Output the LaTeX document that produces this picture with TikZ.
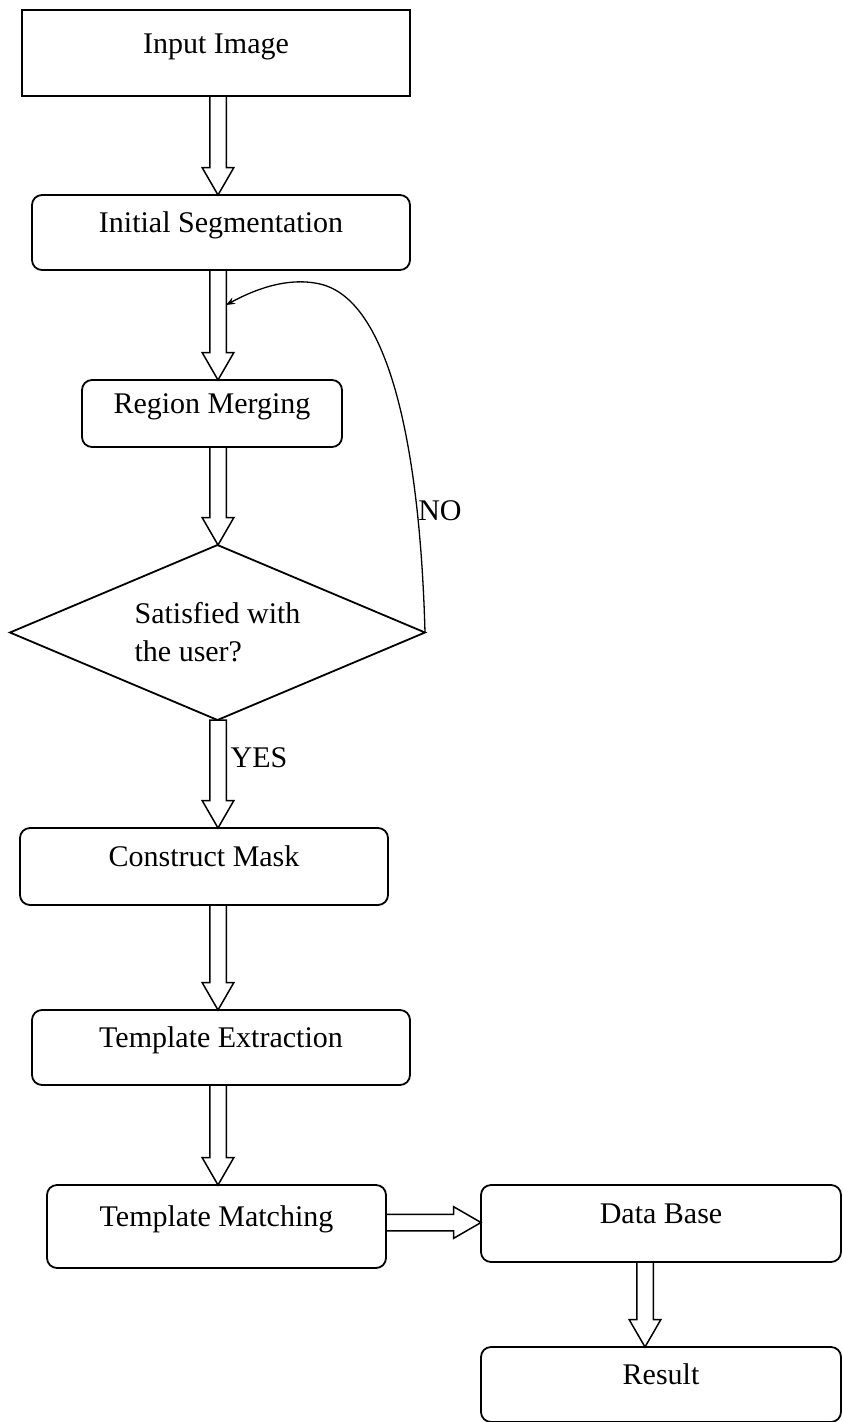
\documentclass[tikz,border=0pt]{standalone}
\usepackage{fontspec}
\setmainfont{Liberation Serif}
\usetikzlibrary{shapes.geometric,shapes.arrows,arrows.meta,positioning}

\begin{document}
\begin{tikzpicture}[
  x=1pt, y=-1pt,
  font=\fontsize{30}{38}\selectfont,
  box/.style={draw, line width=1.8pt, rounded corners=10pt,
              inner sep=0pt, outer sep=0pt,
              text height=20pt, text depth=20pt},
  dec/.style={draw, line width=1.8pt, diamond, aspect=2.4,
              inner sep=0pt, outer sep=0pt,
              minimum width=415pt, minimum height=175pt, align=left},
  blk/.style={draw, line width=1.5pt, single arrow, shape border rotate=270,
              single arrow head extend=7.5pt, single arrow tip angle=60,
              single arrow head indent=0pt,
              inner sep=7.5pt, outer sep=0pt},
  back/.style={-{Stealth[length=9pt,width=7pt]}, line width=1.3pt}
]
\useasboundingbox (0,0) rectangle (843,1422);

% Main column
\node[box, sharp corners, minimum width=388pt, minimum height=86pt] (input) at (216,53) {Input Image};
\node[box, minimum width=378pt, minimum height=75pt, below=99pt of input, xshift=5pt] (seg) {Initial Segmentation};
\node[box, minimum width=260pt, minimum height=67pt, below=110pt of seg, xshift=-9pt] (merge) {Region Merging};
\node[dec, below=98pt of merge, xshift=5.5pt] (check) {Satisfied with\\the user?};
\node[box, minimum width=368pt, minimum height=77pt, below=108pt of check, xshift=-13.5pt] (mask) {Construct Mask};
\node[box, minimum width=378pt, minimum height=75pt, below=105pt of mask, xshift=17pt] (extract) {Template Extraction};
\node[box, minimum width=339pt, minimum height=83pt, below=100pt of extract, xshift=-4.5pt] (match) {Template Matching};

% Right side
\node[box, minimum width=360pt, minimum height=77pt, right=95pt of match, yshift=3pt] (db) {Data Base};
\node[box, minimum width=360pt, minimum height=75pt, below=85pt of db] (result) {Result};

% Block arrows
\coordinate (col) at (218,0);
\node[blk, minimum height=99pt, anchor=tail] (a1) at (input.south -| col) {};
\node[blk, minimum height=110pt, anchor=tail] (a2) at (seg.south -| col) {};
\node[blk, minimum height=98pt, anchor=tail] (a3) at (merge.south -| col) {};
\node[blk, minimum height=108pt, anchor=tail] (a4) at (check.south -| col) {};
\node[blk, minimum height=105pt, anchor=tail] (a5) at (mask.south -| col) {};
\node[blk, minimum height=100pt, anchor=tail] (a6) at (extract.south -| col) {};
\node[blk, shape border rotate=0, minimum height=95pt, anchor=tail] (a7) at ([yshift=4pt]match.east) {};
\node[blk, minimum height=85pt, anchor=tail] (a8) at ([xshift=-16pt]db.south) {};

% Loop back
\coordinate (ret) at (226,305);
\draw[back] (check.east) .. controls (420,450) and (390,300) .. (320,284)
  .. controls (285,276) and (250,292) .. (ret);

% Labels
\node (no) at (440,511) {NO};
\node (yes) at (259,758) {YES};

\end{tikzpicture}
\end{document}
